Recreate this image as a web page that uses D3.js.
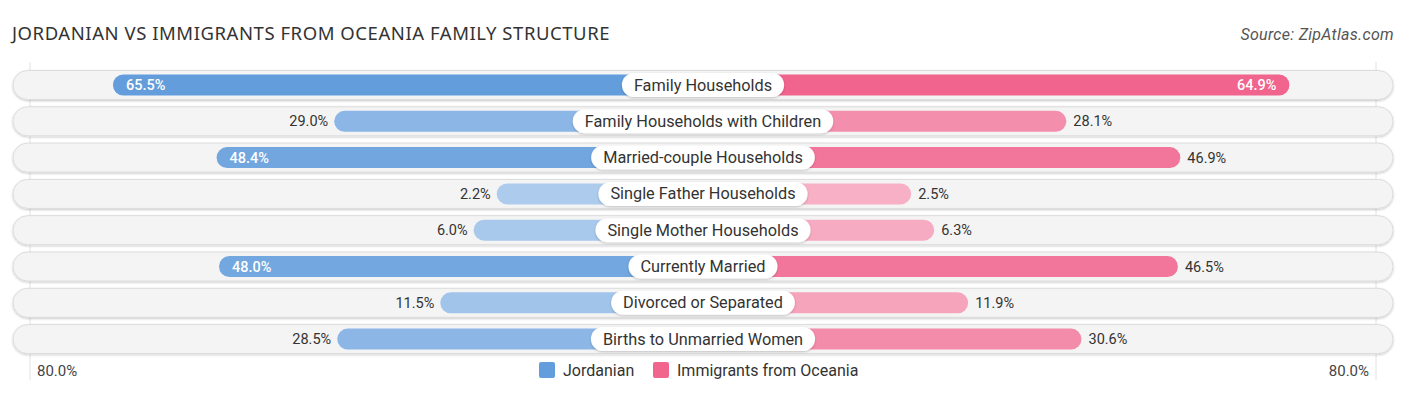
<!DOCTYPE html>
<html lang="en">
<head>
<meta charset="utf-8">
<title>Jordanian vs Immigrants from Oceania Family Structure</title>
<script src="https://d3js.org/d3.v7.min.js"></script>
<style>
  body { margin: 0; background: #fff; }
  svg { display: block; }
</style>
</head>
<body>
<script>
// data
var categories = ["Family Households", "Family Households with Children", "Married-couple Households",
  "Single Father Households", "Single Mother Households", "Currently Married",
  "Divorced or Separated", "Births to Unmarried Women"];
var jordanian = [65.5, 29.0, 48.4, 2.2, 6.0, 48.0, 11.5, 28.5];
var oceania = [64.9, 28.1, 46.9, 2.5, 6.3, 46.5, 11.9, 30.6];
var seriesNames = ["Jordanian", "Immigrants from Oceania"];
var axisMax = 80;
var axisLabels = ["80.0%", "80.0%"];

var width = 1406, height = 395;
var cx = 703;
var rowTop = 85, rowStep = 36.3;
var font = "Roboto, 'Noto Sans', sans-serif";

var svg = d3.select("body").append("svg")
  .attr("width", width).attr("height", height);

var defs = svg.append("defs");
var sh = defs.append("filter").attr("id", "shadow")
  .attr("x", "-10%").attr("y", "-40%").attr("width", "120%").attr("height", "180%");
sh.append("feDropShadow").attr("dx", 0).attr("dy", 1).attr("stdDeviation", 1.2)
  .attr("flood-color", "#000").attr("flood-opacity", 0.22);

// bar length: offset + scaled value
var len = d3.scaleLinear().domain([0, axisMax]).range([193, 678]);
var y = function(i) { return rowTop + i * rowStep; };

var blueCol = d3.scaleLinear().domain([0, 60]).range(["#b0cdee", "#639ddb"]).clamp(true);
var pinkCol = d3.scaleLinear().domain([0, 60]).range(["#f7b3c8", "#f0648e"]).clamp(true);

// title
svg.append("text").attr("x", 12).attr("y", 40)
  .attr("font-family", "'Noto Sans', sans-serif").attr("font-size", 18.5)
  .attr("letter-spacing", 0.55)
  .attr("fill", "#333").text("JORDANIAN VS IMMIGRANTS FROM OCEANIA FAMILY STRUCTURE");
svg.append("text").attr("x", 1394).attr("y", 40).attr("text-anchor", "end")
  .attr("font-family", font).attr("font-size", 16).attr("font-style", "italic")
  .attr("letter-spacing", 0.3)
  .attr("fill", "#555").text("Source: ZipAtlas.com");

// guide lines
[cx - 673, cx + 673].forEach(function(x) {
  svg.append("line").attr("x1", x).attr("x2", x).attr("y1", 62).attr("y2", 380)
    .attr("stroke", "#e2e2e2").attr("stroke-width", 1);
});

var rows = svg.selectAll("g.row").data(categories).enter().append("g").attr("class", "row");

// track
rows.append("rect")
  .attr("x", 13).attr("y", function(d, i) { return y(i) - 14.5; })
  .attr("width", width - 26).attr("height", 29).attr("rx", 14.5)
  .attr("fill", "#f4f4f4").attr("stroke", "#dcdcdc").attr("stroke-width", 1)
  .attr("filter", "url(#shadow)");

// left bars
rows.append("rect")
  .attr("x", function(d, i) { return cx - len(jordanian[i]); })
  .attr("y", function(d, i) { return y(i) - 10.5; })
  .attr("width", function(d, i) { return len(jordanian[i]); })
  .attr("height", 21).attr("rx", 10.5)
  .attr("fill", function(d, i) { return blueCol(jordanian[i]); });

// right bars
rows.append("rect")
  .attr("x", cx)
  .attr("y", function(d, i) { return y(i) - 10.5; })
  .attr("width", function(d, i) { return len(oceania[i]); })
  .attr("height", 21).attr("rx", 10.5)
  .attr("fill", function(d, i) { return pinkCol(oceania[i]); });

// value labels
var inside = function(v) { return v > 47.5; };
rows.append("text")
  .attr("x", function(d, i) {
    var v = jordanian[i];
    return inside(v) ? cx - len(v) + 13 : cx - len(v) - 6;
  })
  .attr("y", function(d, i) { return y(i) + 5; })
  .attr("text-anchor", function(d, i) { return inside(jordanian[i]) ? "start" : "end"; })
  .attr("font-family", font).attr("font-size", 14.5)
  .attr("font-weight", function(d, i) { return inside(jordanian[i]) ? 500 : 400; })
  .attr("fill", function(d, i) { return inside(jordanian[i]) ? "#fff" : "#333"; })
  .text(function(d, i) { return jordanian[i].toFixed(1) + "%"; });

rows.append("text")
  .attr("x", function(d, i) {
    var v = oceania[i];
    return inside(v) ? cx + len(v) - 13 : cx + len(v) + 7;
  })
  .attr("y", function(d, i) { return y(i) + 5; })
  .attr("text-anchor", function(d, i) { return inside(oceania[i]) ? "end" : "start"; })
  .attr("font-family", font).attr("font-size", 14.5)
  .attr("font-weight", function(d, i) { return inside(oceania[i]) ? 500 : 400; })
  .attr("fill", function(d, i) { return inside(oceania[i]) ? "#fff" : "#333"; })
  .text(function(d, i) { return oceania[i].toFixed(1) + "%"; });

// category pills
rows.each(function(d, i) {
  var g = d3.select(this);
  var pill = g.append("rect").attr("fill", "#fff").attr("filter", "url(#shadow)");
  var t = g.append("text").attr("x", cx).attr("y", y(i) + 5.5)
    .attr("text-anchor", "middle").attr("font-family", font).attr("font-size", 16.3)
    .attr("fill", "#333").text(d);
  var w = t.node().getComputedTextLength() + 24;
  pill.attr("x", cx - w / 2).attr("y", y(i) - 12).attr("width", w).attr("height", 24).attr("rx", 12);
});

// axis labels
svg.append("text").attr("x", 37).attr("y", 376).attr("font-family", font)
  .attr("font-size", 15).attr("fill", "#444").text(axisLabels[0]);
svg.append("text").attr("x", 1369).attr("y", 376).attr("text-anchor", "end").attr("font-family", font)
  .attr("font-size", 15).attr("fill", "#444").text(axisLabels[1]);

// legend
var legend = svg.append("g");
var lx = [539, 653];
var lc = ["#639ddb", "#f0648e"];
seriesNames.forEach(function(n, i) {
  legend.append("rect").attr("x", lx[i]).attr("y", 362).attr("width", 16).attr("height", 16)
    .attr("rx", 2).attr("fill", lc[i]);
  legend.append("text").attr("x", lx[i] + 24).attr("y", 376).attr("font-family", font)
    .attr("font-size", 16).attr("fill", "#333").text(n);
});
</script>
</body>
</html>
